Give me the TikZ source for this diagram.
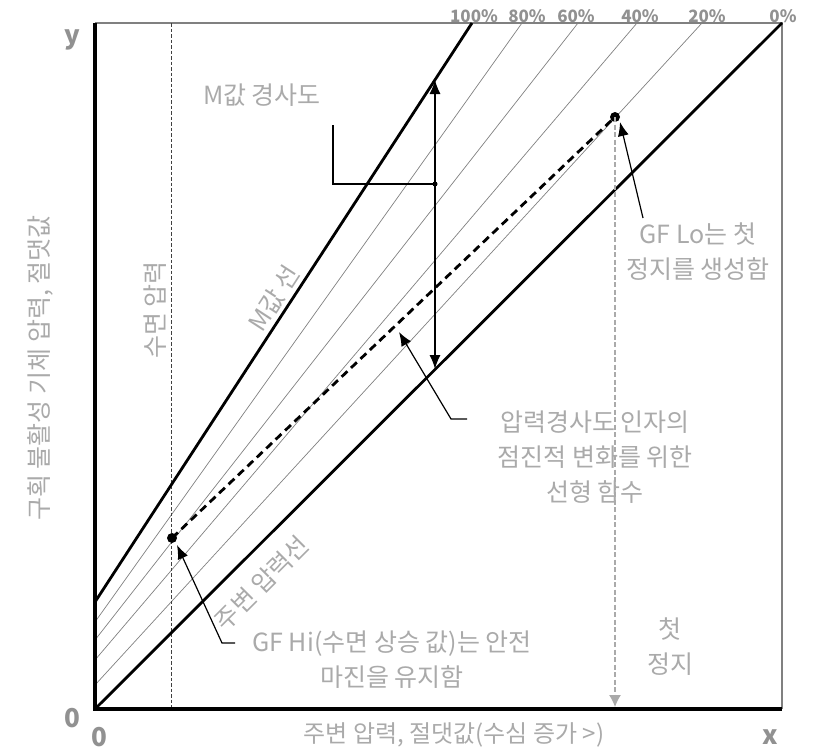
\documentclass[tikz,border=0pt]{standalone}
\usepackage{fontspec}
\setmainfont{Noto Sans CJK KR}
\usetikzlibrary{arrows.meta}

\definecolor{textgrau}{RGB}{170,170,170}
\definecolor{rahmengrau}{RGB}{128,128,128}

% Bildpunkte in pt, y nach unten
\def\punkt#1#2{ ({(#1)*1pt},{-(#2)*1pt}) }
\def\marke#1#2#3{
	\path \punkt{#2}{#3} coordinate (#1);
}

\tikzset{
	beschriftung/.style={text=textgrau, font=\fontsize{25}{35}\selectfont, align=center, inner sep=0pt},
	achsname/.style={text=textgrau!85!black, font=\fontsize{26}{26}\selectfont\bfseries, inner sep=0pt},
	prozent/.style={text=textgrau!85!black, font=\fontsize{17}{17}\selectfont\bfseries, inner sep=0pt},
	duenn/.style={draw=gray, line width=0.7pt},
	dick/.style={line width=2.8pt},
	zeiger/.style={line width=1.2pt, -{Latex[length=14pt,width=11pt]}},
}

\begin{document}
\begin{tikzpicture}[>={Latex[length=14pt,width=11pt]}]
\useasboundingbox \punkt{0}{0} rectangle \punkt{817}{753};
\marke{ursprung}{95}{709}
\marke{yoben}{95}{23}
\marke{xrechts}{782}{709}
\marke{ecke}{782}{23}
\marke{mfuss}{95}{602}
\marke{mkopf}{472}{23}
\marke{hi}{172}{538}
\marke{lo}{615}{117}
\marke{loboden}{615}{707}
\marke{mpunkt}{435}{80}
\marke{upunkt}{435}{369}
\marke{steigung}{435}{184}
\marke{klammer}{333}{184}
\marke{klammerkopf}{333}{125}
\marke{oberoben}{171}{23}
\marke{oberunten}{171}{709}

% Zwischenlinien
\foreach \ya/\xt/\xl/\p in {622/522/527/80, 640/578/576/60, 660/637/640/40, 685/702/707/20}{
	\draw[duenn] \punkt{95}{\ya} -- \punkt{\xt}{23};
	\node[prozent] (p\p) at \punkt{\xl}{16} {\p\%};
}
\node[prozent] (p100) at \punkt{474}{16} {100\%};
\node[prozent] (p0) at \punkt{783}{16} {0\%};

% Rahmen
\draw[draw=rahmengrau, line width=1.5pt] (yoben) -- (ecke) -- (xrechts);
\draw[dash pattern=on 3.5pt off 2pt, line width=0.9pt, draw=black!75] (oberoben) -- (oberunten);

% M-Wert-Linie und Umgebungsdruck
\draw[dick] (mfuss) -- (mkopf);
\draw[dick] (ursprung) -- (ecke);

% Achsen
\draw[line width=4.5pt] (yoben) -- (ursprung) -- (xrechts);

% Gradientenfaktor
\draw[dick, dash pattern=on 8pt off 5pt] (hi) -- (lo);
\fill (hi) circle[radius=5pt];
\fill (lo) circle[radius=5pt];
\draw[draw=textgrau, line width=1.2pt, dash pattern=on 5pt off 2.5pt, -{Latex[length=12pt,width=12pt]}, color=textgrau] (lo) -- (loboden);

% M-Wert-Steigung
\draw[line width=1.2pt, <->] (upunkt) -- (mpunkt);
\draw[line width=1.2pt] (klammerkopf) -- (klammer) -- (steigung);
\fill (steigung) circle[radius=2.5pt];

% Texte
\node[beschriftung] (mtext) at \punkt{262}{95} {M값 경사도};
\node[beschriftung, rotate=90] (obertext) at \punkt{155}{310} {수면 압력};
\node[beschriftung, rotate=57] (mlinie) at \punkt{274}{298} {M값 선};
\node[beschriftung, rotate=45] (ulinie) at \punkt{262}{583} {주변 압력선};
\node[beschriftung] (lotext) at \punkt{698}{252} {GF Lo는 첫\\정지를 생성함};
\node[beschriftung] (stopptext) at \punkt{670}{647} {첫\\정지};
\node[beschriftung] (hitext) at \punkt{392}{660} {GF Hi(수면 상승 값)는 안전\\마진을 유지함};
\node[beschriftung] (lintext) at \punkt{595}{457} {압력경사도 인자의\\점진적 변화를 위한\\선형 함수};
\node[beschriftung, font=\fontsize{24}{34}\selectfont] (xtext) at \punkt{454}{735} {주변 압력, 절댓값(수심 증가 >)};
\node[beschriftung, rotate=90] (ytext) at \punkt{40}{368} {구획 불활성 기체 압력, 절댓값};
\node[achsname] (null1) at \punkt{72}{718} {0};
\node[achsname] (null2) at \punkt{99}{737} {0};
\node[achsname] (yname) at \punkt{72}{40} {y};
\node[achsname] (xname) at \punkt{770}{737} {x};

% Hinweispfeile
\marke{lofuss}{643}{218}
\marke{lospitze}{620}{122}
\draw[zeiger] (lofuss) -- (lospitze);
\marke{hiende}{235}{643}
\marke{hiknick}{222}{643}
\marke{hispitze}{177}{545}
\draw[zeiger] (hiende) -- (hiknick) -- (hispitze);
\marke{linende}{467}{419}
\marke{linknick}{451}{419}
\marke{linspitze}{399}{332}
\draw[zeiger] (linende) -- (linknick) -- (linspitze);
\end{tikzpicture}
\end{document}
